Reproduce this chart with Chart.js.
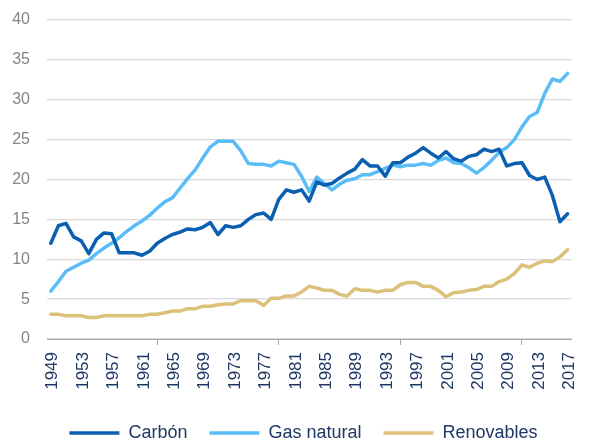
<!DOCTYPE html>
<html lang="es">
<head>
    <meta charset="UTF-8">
    <title>Carbón, gas natural y renovables</title>
    <script src="https://cdn.jsdelivr.net/npm/chart.js"></script>
    <style>
        body { margin: 0; background: #fff; }
    </style>
</head>
<body>
    <canvas id="chart" width="595" height="443"></canvas>
    <script>
        // Años 1949-2017
        const years = [];
        for (let y = 1949; y <= 2017; y++) years.push(String(y));

        const carbon = [
            12.0, 14.2, 14.5, 12.8, 12.3, 10.7, 12.5, 13.3, 13.2, 10.8,
            10.8, 10.8, 10.5, 11.0, 12.0, 12.6, 13.1, 13.4, 13.8, 13.7,
            14.0, 14.6, 13.1, 14.2, 14.0, 14.2, 15.0, 15.6, 15.8, 15.0,
            17.5, 18.7, 18.4, 18.7, 17.3, 19.7, 19.3, 19.5, 20.2, 20.8,
            21.3, 22.5, 21.7, 21.7, 20.4, 22.1, 22.1, 22.8, 23.3, 24.0,
            23.3, 22.7, 23.5, 22.6, 22.3, 22.9, 23.1, 23.8, 23.5, 23.8,
            21.7, 22.0, 22.1, 20.5, 20.0, 20.3, 18.0, 14.7, 15.7
        ];
        const gasNatural = [
            6.0, 7.2, 8.5, 9.0, 9.5, 9.9, 10.7, 11.4, 12.0, 12.7,
            13.5, 14.2, 14.8, 15.5, 16.4, 17.2, 17.7, 18.9, 20.1, 21.2,
            22.7, 24.1, 24.8, 24.8, 24.8, 23.6, 22.0, 21.9, 21.9, 21.7,
            22.3, 22.1, 21.9, 20.4, 18.5, 20.3, 19.5, 18.7, 19.4, 19.9,
            20.1, 20.6, 20.6, 21.0, 21.4, 21.8, 21.6, 21.8, 21.8, 22.0,
            21.8, 22.4, 22.7, 22.1, 22.0, 21.5, 20.8, 21.5, 22.4, 23.4,
            24.0, 25.0, 26.6, 27.9, 28.4, 30.8, 32.6, 32.3, 33.3
        ];
        const renovables = [
            3.1, 3.1, 2.9, 2.9, 2.9, 2.7, 2.7, 2.9, 2.9, 2.9,
            2.9, 2.9, 2.9, 3.1, 3.1, 3.3, 3.5, 3.5, 3.8, 3.8,
            4.1, 4.1, 4.3, 4.4, 4.4, 4.8, 4.8, 4.8, 4.2, 5.1,
            5.1, 5.4, 5.4, 5.9, 6.6, 6.4, 6.1, 6.1, 5.6, 5.4,
            6.3, 6.1, 6.1, 5.9, 6.1, 6.1, 6.8, 7.1, 7.1, 6.6,
            6.6, 6.1, 5.3, 5.8, 5.9, 6.1, 6.2, 6.6, 6.6, 7.2,
            7.5, 8.2, 9.3, 9.0, 9.5, 9.8, 9.7, 10.3, 11.2
        ];

        const font = "'Liberation Sans', Arial, sans-serif";

        function serie(label, data, color) {
            return {
                label: label,
                data: data,
                borderColor: color,
                backgroundColor: color,
                borderWidth: 3.5,
                pointRadius: 0,
                pointStyle: 'line',
                tension: 0,
                borderCapStyle: 'round',
                borderJoinStyle: 'round'
            };
        }

        // nudge the legend a little to the right, like in the original
        const legendShift = {
            id: 'legendShift',
            afterLayout(chart) {
                chart.legend.left += 9;
                chart.legend.right += 9;
            }
        };

        new Chart(document.getElementById('chart'), {
            type: 'line',
            data: {
                labels: years,
                datasets: [
                    serie('Carbón', carbon, '#0b5fb0'),
                    serie('Gas natural', gasNatural, '#5bbdf7'),
                    serie('Renovables', renovables, '#dcc17a')
                ]
            },
            plugins: [legendShift],
            options: {
                responsive: false,
                animation: false,
                layout: { padding: { top: 20, right: 6, left: 0, bottom: -9 } },
                plugins: {
                    tooltip: { enabled: false },
                    legend: {
                        position: 'bottom',
                        labels: {
                            usePointStyle: true,
                            pointStyleWidth: 50,
                            boxHeight: 16,
                            padding: 22,
                            color: '#1f3864',
                            font: { family: font, size: 18 }
                        }
                    }
                },
                scales: {
                    x: {
                        offset: true,
                        afterFit: (scale) => { scale.height = 63; scale.paddingTop = 0; },
                        border: { color: '#a6a6a6' },
                        grid: {
                            offset: true,
                            drawOnChartArea: false,
                            tickLength: 6,
                            color: (ctx) => ctx.index % 4 === 0 ? '#a6a6a6' : 'rgba(0,0,0,0)'
                        },
                        ticks: {
                            autoSkip: false,
                            minRotation: 90,
                            maxRotation: 90,
                            padding: 7,
                            labelOffset: 2,
                            color: '#1f3864',
                            font: { family: font, size: 17 },
                            callback: function (value, index) {
                                return index % 4 === 0 ? years[index] : null;
                            }
                        }
                    },
                    y: {
                        min: 0,
                        max: 40,
                        afterFit: (scale) => { scale.width = 47; scale.paddingTop = 0; },
                        border: { display: false },
                        grid: { color: '#d9d9d9', lineWidth: 1.3, drawTicks: false },
                        ticks: {
                            stepSize: 5,
                            padding: 17,
                            color: '#858585',
                            font: { family: font, size: 16 }
                        }
                    }
                }
            }
        });
    </script>
</body>
</html>
